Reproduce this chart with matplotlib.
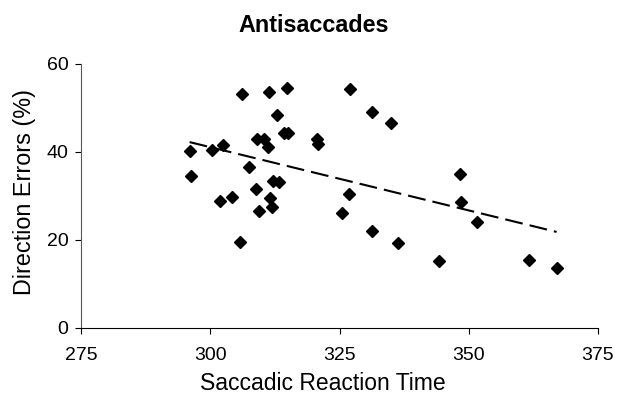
import numpy as np
import matplotlib.pyplot as plt

plt.rcParams['font.family'] = ['Liberation Sans', 'DejaVu Sans']

# saccadic reaction time (ms) and direction errors (%)
srt = [296.0, 296.3, 300.3, 302.4, 301.9, 304.3, 305.8, 306.1, 307.5, 308.8,
       309.4, 309.0, 310.3, 311.2, 311.4, 311.6, 311.9, 312.2, 312.9, 313.3,
       314.3, 315.1, 314.8, 320.7, 320.9, 327.0, 331.2, 335.0, 326.8, 325.4,
       331.3, 336.3, 344.2, 348.3, 348.5, 351.5, 361.7, 367.0]
errors = [40.1, 34.5, 40.5, 41.5, 28.8, 29.8, 19.5, 53.1, 36.5, 31.5,
          26.5, 42.9, 42.9, 41.1, 53.6, 29.4, 27.5, 33.3, 48.3, 33.1,
          44.2, 44.2, 54.6, 43.0, 41.8, 54.2, 49.0, 46.5, 30.5, 26.0,
          22.0, 19.3, 15.2, 34.9, 28.6, 24.0, 15.5, 13.5]

x_ticks = [275, 300, 325, 350, 375]
y_ticks = [0, 20, 40, 60]

fig = plt.figure(figsize=(6.17, 3.97), dpi=100)
ax = fig.add_axes([0.1313, 0.1746, 0.8379, 0.6642])

ax.plot(srt, errors, linestyle='none', marker='D', markersize=6.6,
        color='black', zorder=3)

# linear trendline
k, b = np.polyfit(srt, errors, 1)
xs = np.array([min(srt), max(srt)])
ax.plot(xs, k * xs + b, color='black', lw=1.5, linestyle=(0, (8.6, 3.4)))

ax.set_xlim(275, 375)
ax.set_ylim(0, 60)
ax.set_xticks(x_ticks)
ax.set_yticks(y_ticks)
ax.tick_params(labelsize=14, length=4, width=0.8, direction='out')
ax.tick_params(axis='x', pad=10)
ax.tick_params(axis='y', pad=5)
ax.spines['top'].set_visible(False)
ax.spines['right'].set_visible(False)
ax.spines['left'].set_color('#555555')
ax.spines['bottom'].set_color('black')

ax.set_xlabel('Saccadic Reaction Time', fontsize=16.5, va='center')
ax.xaxis.set_label_coords(0.468, -0.212)
ax.set_ylabel('Direction Errors (%)', fontsize=16.8, va='center')
ax.yaxis.set_label_coords(-0.110, 0.515)
fig.text(0.508, 0.937, 'Antisaccades', fontsize=16.8, fontweight='bold',
         ha='center', va='center')

fig.savefig('out.png', dpi=100)
